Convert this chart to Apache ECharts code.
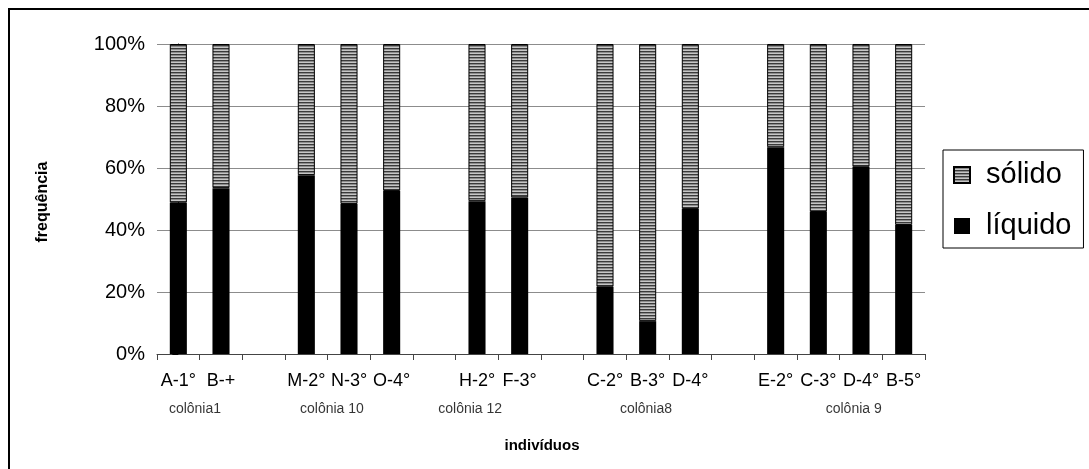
<!DOCTYPE html>
<html>
<head>
<meta charset="utf-8">
<script src="https://cdn.jsdelivr.net/npm/echarts@6/dist/echarts.min.js"></script>
<style>
  html, body { margin: 0; padding: 0; background: #fff; }
  #chart { width: 1089px; height: 469px; }
</style>
</head>
<body>
<div id="chart"></div>
<script>
// Individuals per colony; blank entries are spacer columns between colonies
const categories = ['A-1°', 'B-+', '', 'M-2°', 'N-3°', 'O-4°', '', 'H-2°', 'F-3°', '',
  'C-2°', 'B-3°', 'D-4°', '', 'E-2°', 'C-3°', 'D-4°', 'B-5°'];

// Share of each diet type (%)
const liquido = [48.8, 53.5, null, 57.7, 48.4, 52.6, null, 49.3, 50.5, null,
  21.7, 10.6, 46.8, null, 66.7, 45.8, 60.4, 41.6];
const solido = [51.2, 46.5, null, 42.3, 51.6, 47.4, null, 50.7, 49.5, null,
  78.3, 89.4, 53.2, null, 33.3, 54.2, 39.6, 58.4];

// Colony names and where their label sits along the category axis (index units)
const colonyNames = ['colônia1', 'colônia 10', 'colônia 12', 'colônia8', 'colônia 9'];
const colonyPos = [0.39, 3.6, 6.84, 10.96, 15.83];

const yTicks = [0, 20, 40, 60, 80, 100];

const FONT = 'Liberation Sans, Arial, sans-serif';

// Horizontal stripe fill for the "sólido" bars
function stripePattern() {
  const c = document.createElement('canvas');
  c.width = 4; c.height = 3;
  const g = c.getContext('2d');
  g.fillStyle = '#c6c6c6'; g.fillRect(0, 0, 4, 3);
  g.fillStyle = '#3a3a3a'; g.fillRect(0, 0, 4, 1);
  g.fillStyle = '#8c8c8c'; g.fillRect(0, 1, 4, 1);
  return c;
}
const stripes = { image: stripePattern(), repeat: 'repeat' };

const chart = echarts.init(document.getElementById('chart'), null, { renderer: 'canvas' });

chart.setOption({
  backgroundColor: '#ffffff',
  animation: false,
  textStyle: { fontFamily: FONT },
  grid: { left: 157, right: 164, top: 44, bottom: 115, containLabel: false },
  graphic: [
    {
      type: 'rect', silent: true, z: 100,
      shape: { x: 9, y: 9, width: 1100, height: 500 },
      style: { fill: 'none', stroke: '#000', lineWidth: 2 }
    },
    {
      type: 'text', silent: true,
      x: 43, y: 202, rotation: Math.PI / 2,
      style: {
        text: 'frequência', font: 'bold 16px ' + FONT, fill: '#000',
        textAlign: 'center', textVerticalAlign: 'middle'
      }
    },
    {
      type: 'text', silent: true,
      x: 542, y: 446,
      style: {
        text: 'indivíduos', font: 'bold 15px ' + FONT, fill: '#000',
        textAlign: 'center', textVerticalAlign: 'middle'
      }
    }
  ],
  legend: {
    orient: 'vertical',
    left: 943, top: 150,
    data: ['sólido', 'líquido'],
    icon: 'rect',
    itemWidth: 16, itemHeight: 16,
    itemGap: 19,
    padding: [9, 12, 6, 10],
    borderColor: '#000', borderWidth: 1,
    selectedMode: false,
    textStyle: { fontSize: 29, color: '#000', fontFamily: FONT, lineHeight: 32, padding: [0, 0, 0, 11] }
  },
  xAxis: [
    {
      type: 'category',
      data: categories,
      boundaryGap: true,
      axisLine: { lineStyle: { color: '#444', width: 1 } },
      axisTick: { show: true, interval: 0, length: 6, lineStyle: { color: '#444' } },
      axisLabel: { interval: 0, fontSize: 18, color: '#000', margin: 18, fontFamily: FONT },
      splitLine: { show: false }
    },
    {
      type: 'value',
      min: -0.5, max: 17.5,
      show: false,
      gridIndex: 0
    }
  ],
  yAxis: [{
    type: 'value',
    min: yTicks[0], max: yTicks[yTicks.length - 1], interval: 20,
    axisLine: { show: true, lineStyle: { color: '#000', width: 1 } },
    axisTick: { show: true, length: 6, lineStyle: { color: '#000' } },
    axisLabel: { formatter: '{value}%', fontSize: 20, color: '#000', margin: 12, fontFamily: FONT },
    splitLine: { show: true, lineStyle: { color: '#8c8c8c', width: 1 } }
  }],
  series: [
    {
      name: 'líquido',
      type: 'bar',
      stack: 'total',
      barWidth: '40%',
      data: liquido,
      itemStyle: { color: '#000' }
    },
    {
      name: 'sólido',
      type: 'bar',
      stack: 'total',
      barWidth: '40%',
      data: solido,
      itemStyle: { color: stripes, borderColor: '#000', borderWidth: 1 }
    },
    {
      name: 'colony',
      type: 'scatter',
      xAxisIndex: 1,
      symbolSize: 0,
      silent: true,
      data: colonyPos.map((p, i) => ({ value: [p, 0], name: colonyNames[i] })),
      label: {
        show: true,
        position: 'inside',
        offset: [0, 55],
        formatter: p => p.name,
        fontSize: 14,
        color: '#000',
        fontFamily: FONT
      }
    }
  ]
});
</script>
</body>
</html>
